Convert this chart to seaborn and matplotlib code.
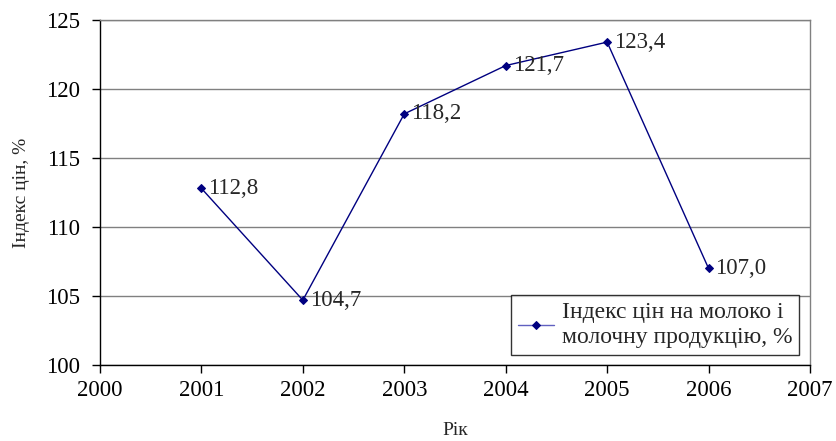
import pandas as pd
import seaborn as sns
import matplotlib.pyplot as plt

# Data
years = [2001, 2002, 2003, 2004, 2005, 2006]
index_values = [112.8, 104.7, 118.2, 121.7, 123.4, 107.0]
series_name = 'Індекс цін на молоко і\nмолочну продукцію, %'

df = pd.DataFrame({'Рік': years, 'Індекс': index_values})

sns.set_style('white')
plt.rcParams['font.family'] = ['Liberation Serif', 'DejaVu Serif']

fig = plt.figure(figsize=(8.36, 4.41), dpi=100)
ax = fig.add_axes([0.1196, 0.1723, 0.8493, 0.7823])

sns.lineplot(data=df, x='Рік', y='Індекс', ax=ax, color='#000080', linewidth=1,
             marker='D', markersize=4, markeredgecolor='#000080', label=series_name)

for x, y in zip(years, index_values):
    ax.annotate(f'{y:.1f}'.replace('.', ','), (x, y), xytext=(5, 0),
                textcoords='offset points', va='center', ha='left', fontsize=16.5)

ax.set_xlim(2000, 2007)
ax.set_ylim(100, 125)
ax.set_xticks(range(2000, 2008))
ax.set_yticks(range(100, 126, 5))
ax.tick_params(axis='both', direction='out', length=6, width=1, colors='black',
               labelsize=16.5, bottom=True, left=True)
ax.tick_params(axis='y', pad=8)
ax.tick_params(axis='x', pad=5)
ax.grid(axis='y', color='#808080', linewidth=1)
ax.set_axisbelow(True)

for side in ['top', 'right']:
    ax.spines[side].set_color('#808080')
    ax.spines[side].set_linewidth(1)
for side in ['left', 'bottom']:
    ax.spines[side].set_color('black')
    ax.spines[side].set_linewidth(1)

ax.set_xlabel('Рік', fontsize=14, labelpad=15)
ax.set_ylabel('Індекс цін, %', fontsize=14, labelpad=12)

leg = ax.legend(loc='lower right', bbox_to_anchor=(0.985, 0.03), frameon=True,
                fancybox=False, edgecolor='black', fontsize=17, handlelength=1.5,
                borderpad=0.3, labelspacing=0.1, handletextpad=0.35,
                borderaxespad=0)
leg.get_frame().set_linewidth(1)
leg.get_lines()[0].set_color('#6060c0')
leg.get_lines()[0].set_markerfacecolor('#000080')

plt.savefig('out.png', dpi=100)
plt.close()
